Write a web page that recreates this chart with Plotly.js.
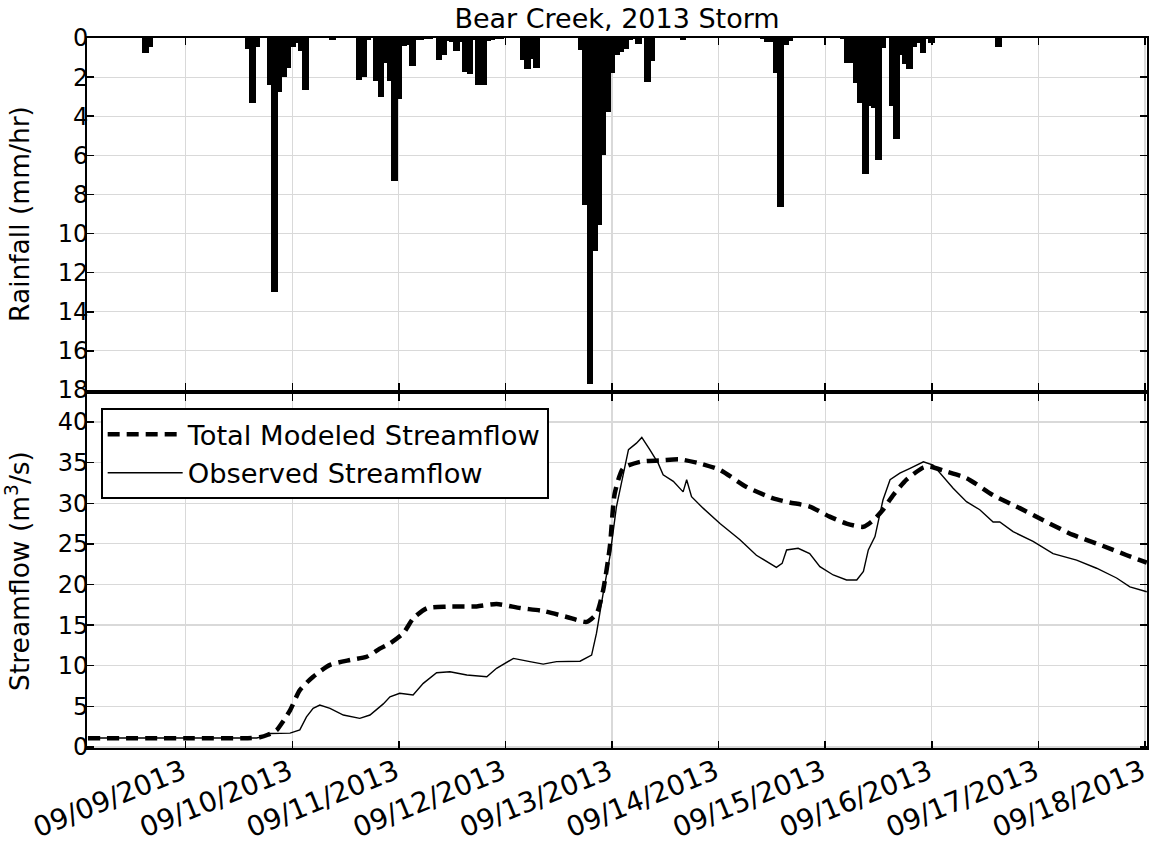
<!DOCTYPE html>
<html>
<head>
<meta charset="utf-8">
<script src="https://cdn.plot.ly/plotly-3.0.1.min.js"></script>
<style>
html,body{margin:0;padding:0;background:#fff;}
#chart{width:1151px;height:866px;}
</style>
</head>
<body>
<div id="chart"></div>
<script>
// Hourly rainfall (mm/hr)
const rainTimes = [
'2013-09-08 15:00','2013-09-08 16:00',
'2013-09-09 14:00','2013-09-09 15:00','2013-09-09 16:00','2013-09-09 19:00','2013-09-09 20:00','2013-09-09 21:00','2013-09-09 22:00','2013-09-09 23:00',
'2013-09-10 00:00','2013-09-10 01:00','2013-09-10 02:00','2013-09-10 03:00','2013-09-10 09:00','2013-09-10 15:00','2013-09-10 16:00','2013-09-10 17:00',
'2013-09-10 19:00','2013-09-10 20:00','2013-09-10 21:00','2013-09-10 22:00','2013-09-10 23:00',
'2013-09-11 00:00','2013-09-11 01:00','2013-09-11 02:00','2013-09-11 03:00','2013-09-11 04:00','2013-09-11 05:00','2013-09-11 06:00','2013-09-11 07:00',
'2013-09-11 09:00','2013-09-11 10:00','2013-09-11 11:00','2013-09-11 12:00','2013-09-11 13:00','2013-09-11 14:00','2013-09-11 15:00','2013-09-11 16:00',
'2013-09-11 17:00','2013-09-11 18:00','2013-09-11 19:00','2013-09-11 20:00','2013-09-11 21:00','2013-09-11 22:00','2013-09-11 23:00',
'2013-09-12 04:00','2013-09-12 05:00','2013-09-12 06:00','2013-09-12 07:00',
'2013-09-12 17:00','2013-09-12 18:00','2013-09-12 19:00','2013-09-12 20:00','2013-09-12 21:00','2013-09-12 22:00','2013-09-12 23:00',
'2013-09-13 00:00','2013-09-13 01:00','2013-09-13 02:00','2013-09-13 03:00','2013-09-13 04:00','2013-09-13 05:00','2013-09-13 06:00',
'2013-09-13 08:00','2013-09-13 09:00','2013-09-13 16:00',
'2013-09-14 10:00','2013-09-14 11:00','2013-09-14 12:00','2013-09-14 13:00','2013-09-14 14:00','2013-09-14 15:00','2013-09-14 16:00',
'2013-09-15 04:00','2013-09-15 05:00','2013-09-15 06:00','2013-09-15 07:00','2013-09-15 08:00','2013-09-15 09:00','2013-09-15 10:00','2013-09-15 11:00',
'2013-09-15 12:00','2013-09-15 13:00','2013-09-15 15:00','2013-09-15 16:00','2013-09-15 17:00','2013-09-15 18:00','2013-09-15 19:00','2013-09-15 20:00',
'2013-09-15 21:00','2013-09-15 22:00','2013-09-15 23:00','2013-09-16 00:00','2013-09-16 15:00'
];
const rainValues = [
0.75,0.46,
0.55,3.3,0.45,2.4,13.0,2.75,2.0,1.52,
0.45,0.25,0.65,2.65,0.12,2.15,2.0,0.1,
2.2,3.0,1.27,2.2,7.3,
3.1,0.4,0.35,1.45,0.08,0.08,0.06,0.06,
1.14,0.85,0.15,0.2,0.65,0.2,1.75,1.82,
0.1,2.4,2.4,0.15,0.1,0.05,0.05,
1.15,1.56,1.05,1.52,
0.6,8.55,17.7,10.9,9.55,6.0,3.8,
1.8,0.87,0.7,0.55,0.08,0.05,0.33,
2.25,1.2,0.08,
0.05,0.2,0.2,1.8,8.65,0.35,0.15,
0.05,1.29,1.29,2.31,3.33,6.95,3.5,3.6,
6.25,0.53,3.5,5.17,0.87,1.35,1.6,0.45,
0.25,0.78,0.05,0.27,0.45
];

// Total modeled streamflow (m3/s)
const modeledTimes = [
'2013-09-08 02:00','2013-09-09 00:00','2013-09-09 14:00','2013-09-09 16:42','2013-09-09 18:30','2013-09-09 20:30','2013-09-09 22:00','2013-09-09 23:30',
'2013-09-10 01:42','2013-09-10 04:42','2013-09-10 08:30','2013-09-10 13:00','2013-09-10 16:45','2013-09-10 19:42','2013-09-10 22:00',
'2013-09-11 01:00','2013-09-11 03:12','2013-09-11 06:18','2013-09-11 10:48','2013-09-11 17:30','2013-09-11 22:00',
'2013-09-12 03:18','2013-09-12 08:30','2013-09-12 13:48','2013-09-12 18:18','2013-09-12 20:30','2013-09-12 22:00','2013-09-12 23:30',
'2013-09-13 00:36','2013-09-13 02:30','2013-09-13 06:18','2013-09-13 11:30','2013-09-13 15:18','2013-09-13 19:48',
'2013-09-14 00:18','2013-09-14 06:18','2013-09-14 12:18','2013-09-14 16:00','2013-09-14 20:30',
'2013-09-15 01:00','2013-09-15 04:48','2013-09-15 08:36','2013-09-15 10:48','2013-09-15 13:00','2013-09-15 15:18','2013-09-15 18:18','2013-09-15 22:06','2013-09-15 23:36',
'2013-09-16 03:18','2013-09-16 07:48','2013-09-16 13:48','2013-09-16 19:48',
'2013-09-17 01:48','2013-09-17 07:48','2013-09-17 13:48','2013-09-17 19:54','2013-09-18 00:24'
];
const modeledValues = [
1.06,1.06,1.08,1.2,1.5,2.08,3.2,4.5,
7.0,8.65,10.1,10.7,11.1,12.1,12.75,
14.0,15.8,17.07,17.27,17.3,17.6,
17.1,16.74,16.0,15.4,16.4,19.3,24.6,
31.2,34.3,35.1,35.3,35.4,34.9,
34.1,32.0,30.6,30.1,29.6,
28.35,27.5,27.1,27.9,29.2,31.0,32.9,34.4,34.5,
33.9,33.1,31.0,29.4,
27.7,26.1,24.9,23.6,22.7
];

// Observed streamflow (m3/s)
const observedTimes = [
'2013-09-08 02:00','2013-09-09 16:00','2013-09-09 17:30','2013-09-09 19:00','2013-09-09 23:30',
'2013-09-10 01:42','2013-09-10 03:12','2013-09-10 04:42','2013-09-10 06:12','2013-09-10 08:30','2013-09-10 11:30','2013-09-10 15:12','2013-09-10 17:30','2013-09-10 20:30','2013-09-10 22:00',
'2013-09-11 00:12','2013-09-11 03:12','2013-09-11 05:30','2013-09-11 08:30','2013-09-11 11:30','2013-09-11 15:18','2013-09-11 19:48','2013-09-11 22:00',
'2013-09-12 01:48','2013-09-12 05:30','2013-09-12 08:30','2013-09-12 11:30','2013-09-12 16:48','2013-09-12 19:24','2013-09-12 20:30','2013-09-12 22:00','2013-09-12 23:30',
'2013-09-13 01:00','2013-09-13 02:30','2013-09-13 03:42','2013-09-13 05:30','2013-09-13 06:42','2013-09-13 08:30','2013-09-13 10:24','2013-09-13 11:30','2013-09-13 13:48',
'2013-09-13 16:00','2013-09-13 16:48','2013-09-13 17:54','2013-09-13 20:30',
'2013-09-14 00:18','2013-09-14 04:48','2013-09-14 08:30','2013-09-14 13:00','2013-09-14 14:18','2013-09-14 15:18','2013-09-14 17:54','2013-09-14 20:30','2013-09-14 22:48',
'2013-09-15 01:48','2013-09-15 04:48','2013-09-15 07:06','2013-09-15 08:36','2013-09-15 09:42','2013-09-15 11:12','2013-09-15 13:00','2013-09-15 14:36','2013-09-15 16:48','2013-09-15 19:06','2013-09-15 22:06',
'2013-09-16 00:18','2013-09-16 02:12','2013-09-16 04:48','2013-09-16 07:48','2013-09-16 10:48','2013-09-16 13:48','2013-09-16 15:18','2013-09-16 18:18','2013-09-16 22:48',
'2013-09-17 03:18','2013-09-17 08:36','2013-09-17 13:06','2013-09-17 17:36','2013-09-17 20:36','2013-09-18 00:24'
];
const observedValues = [
1.1,1.1,1.3,1.65,1.7,
2.1,3.7,4.75,5.16,4.75,3.93,3.52,3.93,5.3,6.18,
6.6,6.4,7.83,9.14,9.26,8.85,8.65,9.68,
10.9,10.5,10.2,10.5,10.55,11.3,14.0,18.9,23.4,
29.6,33.7,36.6,37.4,38.1,36.6,34.9,33.5,32.7,
31.4,32.9,30.8,29.4,
27.5,25.5,23.6,22.1,22.6,24.25,24.46,23.8,22.2,
21.17,20.55,20.55,21.6,24.25,25.9,30.4,32.9,33.7,34.3,35.1,
34.7,33.5,31.85,30.2,29.2,27.7,27.7,26.5,25.3,
23.8,23.0,22.0,20.8,19.7,19.1
];

const dayTicks = ['2013-09-09','2013-09-10','2013-09-11','2013-09-12','2013-09-13','2013-09-14','2013-09-15','2013-09-16','2013-09-17','2013-09-18'];
const dayLabels = ['09/09/2013','09/10/2013','09/11/2013','09/12/2013','09/13/2013','09/14/2013','09/15/2013','09/16/2013','09/17/2013','09/18/2013'];
const rainTicks = [0,2,4,6,8,10,12,14,16,18];
const flowTicks = [0,5,10,15,20,25,30,35,40];
const chartTitle = 'Bear Creek, 2013 Storm';
const rainLabel = 'Rainfall (mm/hr)';
const flowLabel = 'Streamflow (m<sup>3</sup>/s)';
const modeledName = 'Total Modeled Streamflow';
const observedName = 'Observed Streamflow';

const FONT = 'DejaVu Sans, Verdana, sans-serif';
const xRange = ['2013-09-08 01:47', '2013-09-18 00:27'];

const traces = [
  {
    type: 'bar', x: rainTimes, y: rainValues, xaxis: 'x2', yaxis: 'y2',
    width: 1.5 * 3600000,
    marker: {color: '#000000', line: {width: 0}},
    showlegend: false, hoverinfo: 'x+y'
  },
  {
    type: 'scatter', mode: 'lines', x: modeledTimes, y: modeledValues, xaxis: 'x', yaxis: 'y',
    name: modeledName,
    line: {color: '#000000', width: 4.5, dash: '12px,7px', shape: 'spline', smoothing: 0.6}
  },
  {
    type: 'scatter', mode: 'lines', x: observedTimes, y: observedValues, xaxis: 'x', yaxis: 'y',
    name: observedName,
    line: {color: '#000000', width: 1.4}
  }
];

const axisCommon = {
  showline: true, linecolor: '#000000', linewidth: 1.8, mirror: 'ticks',
  ticks: 'inside', ticklen: 7, tickwidth: 1.5, tickcolor: '#000000',
  showgrid: true, gridcolor: '#d9d9d9', gridwidth: 1.2, zeroline: false,
  tickfont: {family: FONT, size: 24, color: '#000000'}
};

const layout = {
  width: 1151, height: 866,
  paper_bgcolor: '#ffffff', plot_bgcolor: '#ffffff',
  margin: {l: 87, r: 4, t: 38, b: 118},
  font: {family: FONT, color: '#000000'},
  title: {
    text: chartTitle, font: {family: FONT, size: 27, color: '#000000'},
    xref: 'paper', x: 0.5, xanchor: 'center',
    yref: 'container', y: 1 - 19 / 866, yanchor: 'middle'
  },
  bargap: 0,
  xaxis: Object.assign({}, axisCommon, {
    type: 'date', range: xRange, domain: [0, 1], anchor: 'y',
    tickmode: 'array', tickvals: dayTicks, ticktext: dayLabels, tickangle: -22,
    ticklabeloverflow: 'allow', ticklabelstandoff: -5, ticklabelshift: -3,
    tickfont: {family: FONT, size: 28, color: '#000000'}
  }),
  yaxis: Object.assign({}, axisCommon, {
    domain: [0, 0.4986], anchor: 'x', range: [-0.13, 43.45],
    tickmode: 'array', tickvals: flowTicks, ticktext: flowTicks.map(String),
    ticklabelstandoff: -8,
    title: {text: flowLabel, font: {family: FONT, size: 26.5, color: '#000000'}, standoff: 20}
  }),
  xaxis2: Object.assign({}, axisCommon, {
    type: 'date', range: xRange, domain: [0, 1], anchor: 'y2',
    tickmode: 'array', tickvals: dayTicks, showticklabels: false
  }),
  yaxis2: Object.assign({}, axisCommon, {
    domain: [0.5042, 1], anchor: 'x2', range: [18, 0],
    tickmode: 'array', tickvals: rainTicks, ticktext: rainTicks.map(String),
    ticklabelstandoff: -8,
    title: {text: rainLabel, font: {family: FONT, size: 26.5, color: '#000000'}, standoff: 20}
  }),
  showlegend: true,
  legend: {
    x: 0.0129, y: 0.4789, xanchor: 'left', yanchor: 'top', xref: 'paper', yref: 'paper',
    bgcolor: '#ffffff', bordercolor: '#000000', borderwidth: 2,
    font: {family: FONT, size: 27.3, color: '#000000'},
    itemwidth: 75,
    traceorder: 'normal'
  }
};

Plotly.newPlot('chart', traces, layout, {displayModeBar: false, staticPlot: true});
</script>
</body>
</html>
